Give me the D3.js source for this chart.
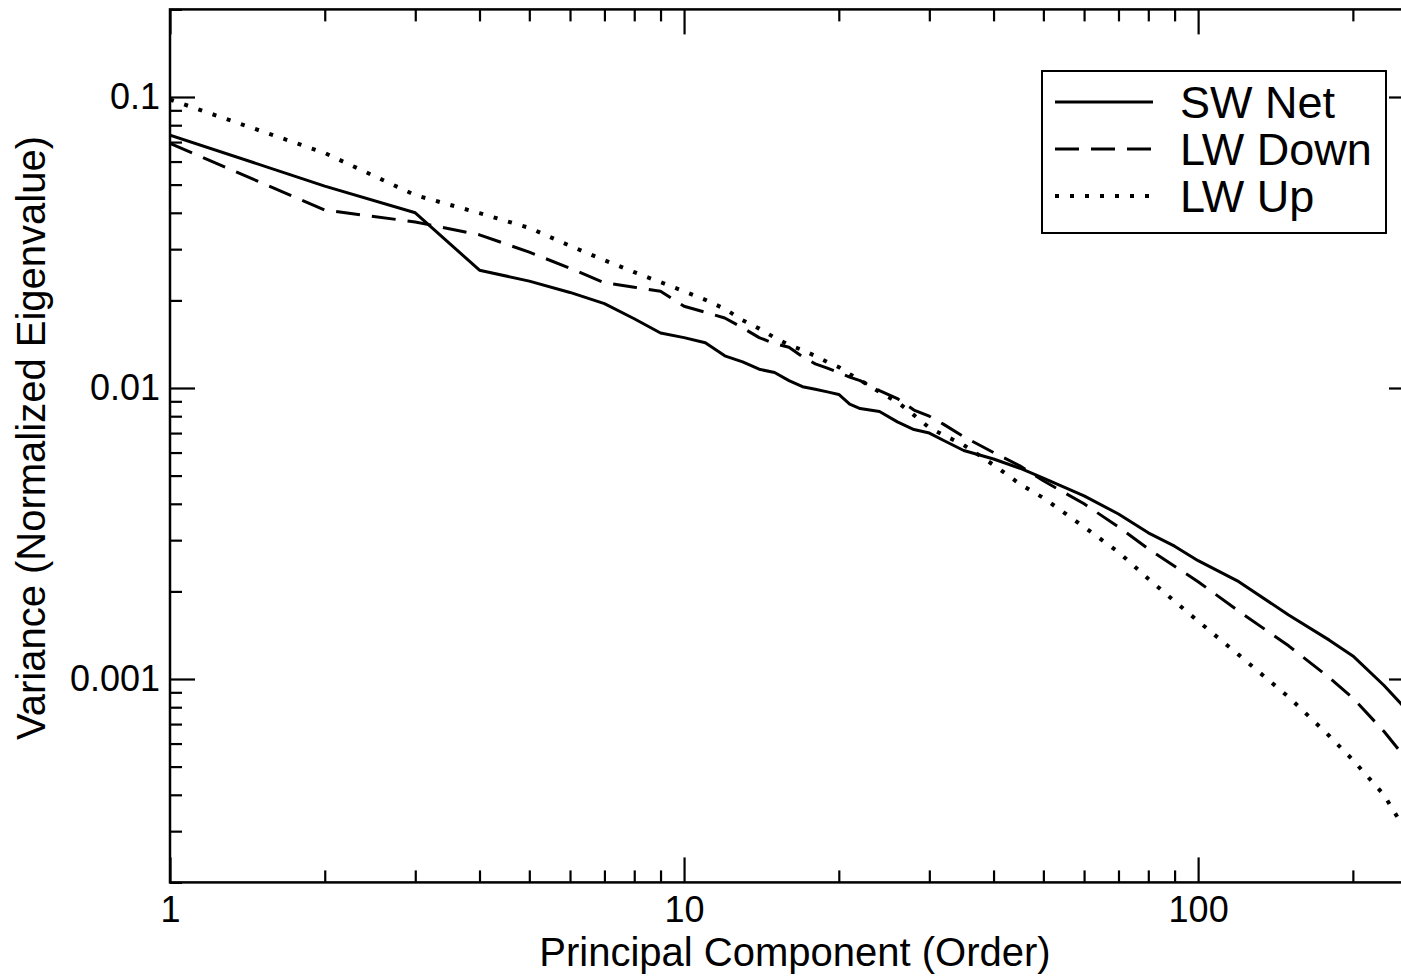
<!DOCTYPE html>
<html>
<head>
<meta charset="utf-8">
<script src="https://cdn.jsdelivr.net/npm/d3@7"></script>
<style>
  html, body { margin: 0; padding: 0; background: #fff; }
  svg { display: block; }
  text { font-family: "Liberation Sans", Arial, Helvetica, sans-serif; fill: #000; }
</style>
</head>
<body>
<svg id="chart" width="1401" height="976"></svg>
<script>
// principal component order (x) and normalized eigenvalues
var pcOrder = [1, 2, 3, 4, 5, 6, 7, 8, 9, 10, 11, 12, 13, 14, 15, 16, 17, 18, 19, 20,
               21, 22, 24, 26, 28, 30, 32, 35, 40, 45, 50, 60, 70, 80, 90, 100,
               120, 150, 180, 200, 230, 250];

var swNet = [0.074, 0.0494, 0.0400, 0.0254, 0.0233, 0.0213, 0.0195, 0.0173, 0.01545, 0.0149,
             0.0143, 0.0129, 0.0123, 0.0116, 0.0113, 0.0106, 0.0101, 0.0099, 0.0097, 0.0095,
             0.0088, 0.0085, 0.0083, 0.00765, 0.0072, 0.0070, 0.0066, 0.0061, 0.0057, 0.0053,
             0.0049, 0.00426, 0.00369, 0.00318, 0.00286, 0.00255,
             0.00216, 0.00166, 0.00136, 0.00120, 0.00095, 0.00081];

var lwDown = [0.0693, 0.0409, 0.0372, 0.0336, 0.0293, 0.0258, 0.0230, 0.0222, 0.0215, 0.0191,
              0.0182, 0.0174, 0.0161, 0.0149, 0.0142, 0.0138, 0.0128, 0.0121, 0.0117, 0.0113,
              0.0109, 0.0106, 0.0098, 0.0092, 0.0084, 0.0080, 0.0075, 0.0068, 0.0060, 0.0054,
              0.0048, 0.0040, 0.00333, 0.0028, 0.00244, 0.00216,
              0.00171, 0.00130, 0.00101, 0.00086, 0.00066, 0.00055];

var lwUp = [0.098, 0.0642, 0.046, 0.0399, 0.0355, 0.0308, 0.0275, 0.0250, 0.0231, 0.0215,
            0.0201, 0.0187, 0.0171, 0.0160, 0.0149, 0.01406, 0.0135, 0.01288, 0.01228, 0.0118,
            0.01116, 0.01065, 0.00969, 0.00895, 0.00807, 0.0073, 0.00689, 0.00637, 0.00544, 0.00468,
            0.00419, 0.00333, 0.00273, 0.00221, 0.00185, 0.00158,
            0.00121, 0.000867, 0.000637, 0.000527, 0.000399, 0.000313];

var seriesNames = ["SW Net", "LW Down", "LW Up"];

var xMajor = [1, 10, 100];
var yMajor = [0.1, 0.01, 0.001];
var xLabels = ["1", "10", "100"];
var yLabels = ["0.1", "0.01", "0.001"];

var xTitle = "Principal Component (Order)";
var yTitle = "Variance (Normalized Eigenvalue)";

var svg = d3.select("#chart");

// the right frame sits just past the picture edge, like the original
var plotLeft = 170, plotRight = 1414, plotTop = 9.4, plotBottom = 882.4;

var x = d3.scaleLog().domain([1, 263]).range([plotLeft, plotRight]);
var y = d3.scaleLog().domain([0.0002, 0.2]).range([plotBottom, plotTop]);

// minor ticks: 2..9 in each decade inside the domain
function minors(dom) {
    var out = [];
    var lo = Math.floor(Math.log10(dom[0])), hi = Math.ceil(Math.log10(dom[1]));
    for (var e = lo; e <= hi; e++) {
        for (var m = 2; m <= 9; m++) {
            var v = m * Math.pow(10, e);
            if (v >= dom[0] * 0.9999 && v <= dom[1] * 1.0001) out.push(v);
        }
    }
    return out;
}
var xMinor = minors(x.domain());
var yMinor = minors(y.domain());

var MAJ = 25, MIN = 12;

function styleAxis(g) {
    g.select(".domain").remove();
    g.selectAll("line").attr("stroke", "#000").attr("stroke-width", 2.2);
    g.selectAll("text").style("font-size", "36px");
}

// bottom
svg.append("g").attr("transform", "translate(0," + plotBottom + ")")
    .call(d3.axisBottom(x).tickValues(xMajor).tickSizeInner(-MAJ).tickSizeOuter(0).tickPadding(14)
        .tickFormat(function(d, i) { return xLabels[i]; }))
    .call(styleAxis);
svg.append("g").attr("transform", "translate(0," + plotBottom + ")")
    .call(d3.axisBottom(x).tickValues(xMinor).tickSizeInner(-MIN).tickSizeOuter(0).tickFormat(""))
    .call(styleAxis);
// top
svg.append("g").attr("transform", "translate(0," + plotTop + ")")
    .call(d3.axisTop(x).tickValues(xMajor).tickSizeInner(-MAJ).tickSizeOuter(0).tickFormat(""))
    .call(styleAxis);
svg.append("g").attr("transform", "translate(0," + plotTop + ")")
    .call(d3.axisTop(x).tickValues(xMinor).tickSizeInner(-MIN).tickSizeOuter(0).tickFormat(""))
    .call(styleAxis);
// left
svg.append("g").attr("transform", "translate(" + plotLeft + ",0)")
    .call(d3.axisLeft(y).tickValues(yMajor).tickSizeInner(-MAJ).tickSizeOuter(0).tickPadding(10)
        .tickFormat(function(d, i) { return yLabels[i]; }))
    .call(styleAxis);
svg.append("g").attr("transform", "translate(" + plotLeft + ",0)")
    .call(d3.axisLeft(y).tickValues(yMinor).tickSizeInner(-MIN).tickSizeOuter(0).tickFormat(""))
    .call(styleAxis);
// right
svg.append("g").attr("transform", "translate(" + plotRight + ",0)")
    .call(d3.axisRight(y).tickValues(yMajor).tickSizeInner(-MAJ).tickSizeOuter(0).tickFormat(""))
    .call(styleAxis);
svg.append("g").attr("transform", "translate(" + plotRight + ",0)")
    .call(d3.axisRight(y).tickValues(yMinor).tickSizeInner(-MIN).tickSizeOuter(0).tickFormat(""))
    .call(styleAxis);

// frame
svg.append("rect")
    .attr("x", plotLeft).attr("y", plotTop)
    .attr("width", plotRight - plotLeft).attr("height", plotBottom - plotTop)
    .attr("fill", "none").attr("stroke", "#000").attr("stroke-width", 2.5);

// curves
var dashes = ["none", "24,12", "4,11"];
var widths = [3, 3, 4];
var series = [swNet, lwDown, lwUp];

var line = d3.line()
    .x(function(d) { return x(d[0]); })
    .y(function(d) { return y(d[1]); });

svg.append("defs").append("clipPath").attr("id", "clip")
    .append("rect").attr("x", plotLeft).attr("y", plotTop)
    .attr("width", plotRight - plotLeft).attr("height", plotBottom - plotTop);

svg.append("g").attr("clip-path", "url(#clip)")
    .selectAll("path.series")
    .data(series)
    .enter().append("path")
    .attr("class", "series")
    .attr("d", function(vals) { return line(d3.zip(pcOrder, vals)); })
    .attr("fill", "none")
    .attr("stroke", "#000")
    .attr("stroke-width", function(d, i) { return widths[i]; })
    .attr("stroke-linejoin", "round")
    .attr("stroke-dasharray", function(d, i) { return dashes[i]; });

// legend
var lg = svg.append("g").attr("transform", "translate(1042,71)");
lg.append("rect").attr("width", 344).attr("height", 162)
    .attr("fill", "#fff").attr("stroke", "#000").attr("stroke-width", 2);

var rows = lg.selectAll("g.row").data(seriesNames).enter().append("g")
    .attr("class", "row")
    .attr("transform", function(d, i) { return "translate(0," + (31 + i * 47) + ")"; });
rows.append("line")
    .attr("x1", 13).attr("x2", 111).attr("y1", 0).attr("y2", 0)
    .attr("stroke", "#000")
    .attr("stroke-width", function(d, i) { return widths[i]; })
    .attr("stroke-dasharray", function(d, i) { return dashes[i]; });
rows.append("text")
    .attr("x", 138).attr("y", 16)
    .style("font-size", "45px")
    .text(function(d) { return d; });

// axis titles
svg.append("text")
    .attr("x", 795).attr("y", 966)
    .attr("text-anchor", "middle")
    .style("font-size", "40px")
    .text(xTitle);

svg.append("text")
    .attr("transform", "translate(45,438) rotate(-90)")
    .attr("text-anchor", "middle")
    .style("font-size", "40px")
    .text(yTitle);
</script>
</body>
</html>
